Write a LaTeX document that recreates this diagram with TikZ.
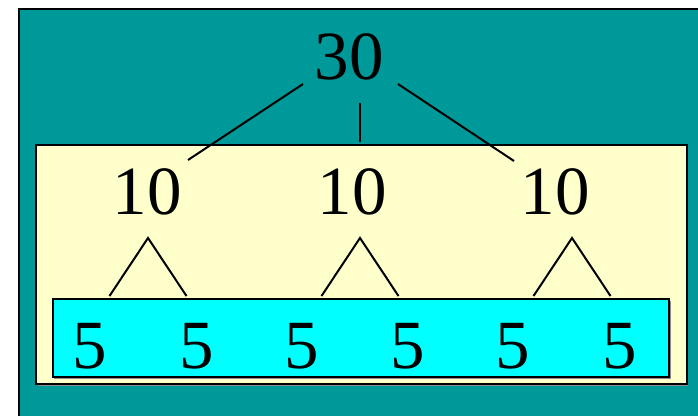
\documentclass[tikz,border=0pt]{standalone}
\usepackage{fontspec}
\setmainfont{Liberation Serif}
\usetikzlibrary{positioning}

\definecolor{tealbg}{HTML}{009999}
\definecolor{paleyel}{HTML}{FFFFCC}
\definecolor{brcyan}{HTML}{00FFFF}

\begin{document}
\begin{tikzpicture}[
  x=1pt, y=-1pt,
  num/.style={inner sep=3pt, font=\fontsize{69}{69}\selectfont},
  panel/.style={draw=black, line width=2.2pt},
  shade/.style={fill=black!45},
  edge/.style={line width=2pt}
]
  \useasboundingbox (0,0) rectangle (698,415);
  \clip (0,0) rectangle (698,415);

  % outer panel
  \fill[shade] (20,9) rectangle (710,430);
  \node[panel, fill=tealbg, inner sep=0pt, minimum width=720pt, minimum height=430pt, anchor=north west] (outer) at (17.5,7.5) {};

  % middle panel
  \fill[shade] (38,147) rectangle (688,386);
  \node[panel, fill=paleyel, inner sep=0pt, minimum width=651pt, minimum height=239pt, anchor=north west] (mid) at (35,144) {};

  % inner panel
  \fill[shade] (54,301) rectangle (671,379);
  \node[panel, fill=brcyan, inner sep=0pt, minimum width=616pt, minimum height=78pt, anchor=north west] (low) at (52,298) {};

  % values
  \node[num] (t30) at (349,57) {30};
  \node[num] (m1) at (147,192) {10};
  \node[num] (m2) at (352,192) {10};
  \node[num] (m3) at (555,192) {10};
  \foreach \i/\xx in {1/90, 2/197, 3/302, 4/408, 5/513, 6/620}
    \node[num] (l\i) at (\xx,346) {5};

  % top branches
  \coordinate (u1) at (303,84);  \coordinate (v1) at (188,160);
  \coordinate (u2) at (360,103); \coordinate (v2) at (360,142);
  \coordinate (u3) at (398,84);  \coordinate (v3) at (514,161);
  \foreach \i in {1,2,3}
    \draw[edge] (u\i) -- (v\i);

  % lower branches
  \foreach \i/\xx in {1/148, 2/360, 3/572} {
    \coordinate (a\i) at (\xx,238);
    \coordinate (p\i) at (\xx-38.5,296);
    \coordinate (q\i) at (\xx+38.5,296);
    \draw[edge] (p\i) -- (a\i) -- (q\i);
  }
\end{tikzpicture}
\end{document}
